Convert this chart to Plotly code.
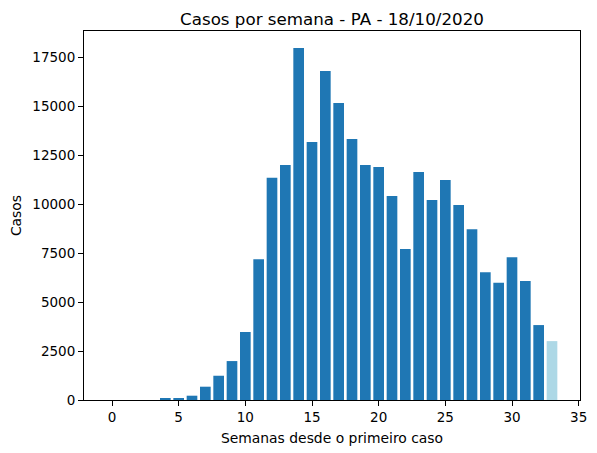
import plotly.graph_objects as go

# Casos semanais (leitura aproximada do grafico)
semanas = list(range(34))
casos = [0, 0, 0, 0, 60, 100, 220, 680, 1240, 1990, 3475, 7200,
         11360, 12010, 17990, 13185, 16810, 15180, 13340, 12010, 11910, 10425,
         7715, 11650, 10220, 11240, 9965, 8730, 6535, 5990, 7300, 6080,
         3830, 3010]

# ultima semana (incompleta) em azul claro
cores = ['#1f77b4'] * (len(semanas) - 1) + ['#add8e6']

fig = go.Figure(go.Bar(
    x=semanas,
    y=casos,
    marker=dict(color=cores, line=dict(width=0)),
    width=0.8,
))

eixo = dict(
    showline=True, linecolor='black', linewidth=1, mirror=True,
    ticks='outside', ticklen=5, tickwidth=1, tickcolor='black',
    showgrid=False, zeroline=False, automargin=False,
    tickfont=dict(size=13.5, color='black'),
)

# a pagina tem margem de 8px no body, por isso as margens sao compensadas
fig.update_layout(
    width=597, height=453,
    margin=dict(l=76, r=25, t=23, b=61),
    plot_bgcolor='white', paper_bgcolor='white',
    font=dict(family='DejaVu Sans', size=13.9, color='black'),
    title=dict(text='Casos por semana - PA - 18/10/2020', x=0.5, xanchor='center',
               xref='paper',
               y=1, yref='paper', yanchor='bottom', pad=dict(b=6),
               font=dict(size=16.7)),
    showlegend=False,
)
fig.update_xaxes(eixo, range=[-2.1, 35.1], tickvals=[0, 5, 10, 15, 20, 25, 30, 35],
                 tickformat='d',
                 title=dict(text='Semanas desde o primeiro caso', standoff=9,
                            font=dict(size=13.9)))
fig.update_yaxes(eixo, range=[0, 18860],
                 tickvals=[0, 2500, 5000, 7500, 10000, 12500, 15000, 17500],
                 tickformat='d',
                 title=dict(text='Casos', standoff=12, font=dict(size=13.9)))

fig.write_html("out.html")
